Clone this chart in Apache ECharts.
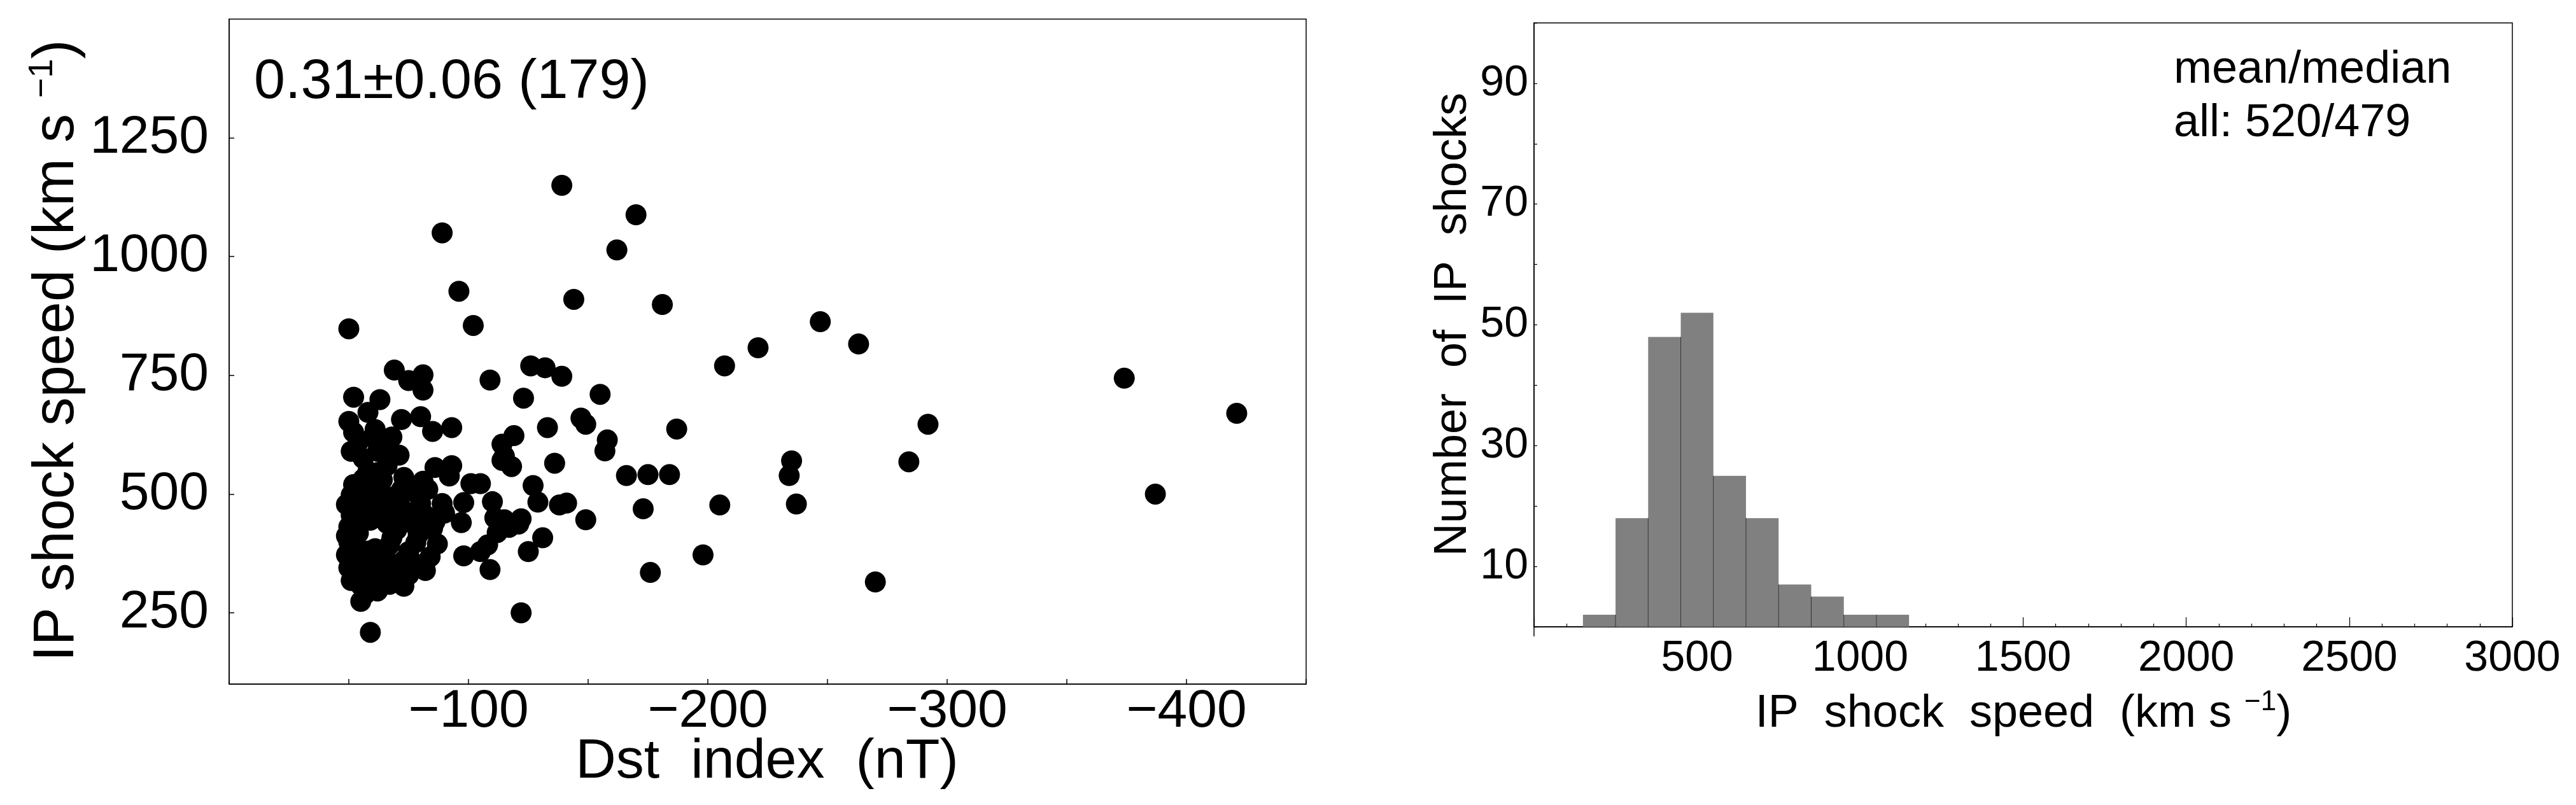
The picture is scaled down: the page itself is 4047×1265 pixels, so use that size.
<!DOCTYPE html>
<html>
<head>
<meta charset="utf-8">
<title>IP shock speed vs Dst</title>
<script src="https://cdn.jsdelivr.net/npm/echarts@6/dist/echarts.min.js"></script>
<style>
    html, body { margin: 0; padding: 0; background: #fff; }
    #chart { width: 4047px; height: 1265px; }
</style>
</head>
<body>
<div id="chart"></div>
<script>
// scatter: Dst index (nT) and IP shock speed (km/s), one entry per event (179)
const dstValues = [
    -50, -89, -96, -102, -139, -170, -162, -144, -181, -247,
    -263, -221, -207, -374, -421, -292, -387, -284, -235, -234,
    -237, -205, -270, -198, -176, -122, -59, -187, -184, -175,
    -166, -173, -149, -136, -158, -157, -127, -129, -138, -141,
    -131, -125, -126, -132, -139, -123, -155, -147, -149, -133,
    -122, -69, -81, -75, -81, -109, -52, -63, -50, -58,
    -60, -68, -72, -80, -85, -93, -71, -119, -114, -115,
    -58, -66, -86, -93, -92, -118, -114, -51, -63, -72,
    -81, -101, -105, -110, -98, -89, -90, -97, -115, -121,
    -112, -108, -105, -98, -109, -87, -82, -75, -80, -68,
    -51, -50, -50, -51, -53, -55, -63, -67, -73, -55,
    -61, -111, -73, -117,
    -52, -49, -53, -52, -54, -49, -52, -49, -53, -50, -54, -51, -57,
    -57, -58, -56, -59, -53, -61, -58, -61, -57, -60, -62, -59, -56,
    -64, -66, -65, -68, -66, -68, -67, -65, -69, -66, -70, -63, -62,
    -69, -74, -77, -70, -76, -78, -73, -79, -75, -77, -72, -79,
    -80, -81, -85, -84, -62, -82, -86, -83,
    -51, -54, -56, -62, -52, -66
];
const shockSpeeds = [
    848, 1050, 927, 855, 1150, 1088, 1014, 910, 899, 863,
    816, 808, 770, 744, 670, 647, 500, 568, 570, 539,
    479, 477, 315, 372, 335, 250, 209, 637, 541, 541,
    539, 469, 446, 565, 614, 591, 518, 483, 477, 481,
    408, 379, 770, 766, 748, 702, 710, 660, 647, 640,
    448, 761, 751, 739, 719, 740, 704, 699, 653, 672,
    620, 620, 657, 663, 632, 640, 582, 623, 605, 580,
    548, 560, 556, 560, 538, 558, 571, 498, 502, 509,
    527, 522, 522, 484, 482, 480, 460, 440, 446, 437,
    419, 393, 379, 370, 341, 395, 339, 379, 442, 433,
    455, 431, 399, 357, 335, 308, 312, 310, 306, 274,
    636, 450, 535, 430,
    520, 478, 470, 442, 418, 412, 385, 372, 366, 345, 322, 318, 290,
    510, 490, 462, 445, 430, 385, 380, 362, 350, 332, 296, 318, 532,
    530, 485, 468, 455, 438, 408, 393, 372, 352, 340, 325, 455, 520,
    495, 458, 455, 425, 440, 398, 360, 352, 330, 505, 470, 415,
    480, 425, 428, 368, 545, 455, 442, 510,
    590, 610, 575, 590, 630, 598
];

// histogram: bin edges (km/s) and counts
const binEdges = [150, 250, 350, 450, 550, 650, 750, 850, 950, 1050, 1150];
const binCounts = [2, 18, 48, 52, 25, 18, 7, 5, 2, 2];

// tick labels
const dstTickLabels = [-100, -200, -300, -400];
const speedTickLabels = [250, 500, 750, 1000, 1250];
const histYTickLabels = [10, 30, 50, 70, 90];

const FONT = '"Liberation Sans", Arial, sans-serif';

let chart = echarts.init(document.getElementById('chart'));

let scatterData = dstValues.map((d, i) => [d, shockSpeeds[i]]);
let histData = binCounts.map((c, i) => [
    binEdges[i], binEdges[i + 1], c,
    i > 0 ? Math.min(c, binCounts[i - 1]) : 0   // height of the divider line
]);

let plain = v => String(v).replace('-', '\u2212');   // no thousands separator
let axisLine = { show: true, lineStyle: { color: '#000', width: 1.5 } };

let option = {
    backgroundColor: '#fff',
    animation: false,
    grid: [
        { left: 360, top: 30, width: 1692, height: 1045, show: true,
          borderColor: '#000', borderWidth: 1.5, outerBoundsMode: 'none' },
        { left: 2410, top: 36, width: 1537, height: 949, show: true,
          borderColor: '#000', borderWidth: 1.5, outerBoundsMode: 'none' }
    ],
    xAxis: [
        {
            gridIndex: 0, type: 'value', min: -450, max: 0, interval: 50, inverse: true,
            axisLine: axisLine,
            axisTick: { show: true, inside: true, length: 8, lineStyle: { color: '#000', width: 1.5 } },
            axisLabel: {
                customValues: dstTickLabels,
                formatter: plain,
                color: '#000', fontSize: 84, fontFamily: FONT, margin: 2
            },
            splitLine: { show: false }
        },
        {
            gridIndex: 1, type: 'value', min: 0, max: 3000, interval: 500,
            axisLine: axisLine,
            axisTick: { show: true, inside: true, length: 15, lineStyle: { color: '#000', width: 1.2 } },
            minorTick: { show: true, splitNumber: 5, length: 5, lineStyle: { color: '#000', width: 1.2 } },
            axisLabel: { showMinLabel: false, formatter: plain, color: '#000', fontSize: 68,
                         fontFamily: FONT, margin: 16 },
            splitLine: { show: false },
            minorSplitLine: { show: false }
        }
    ],
    yAxis: [
        {
            gridIndex: 0, type: 'value', min: 100, max: 1500,
            axisLine: axisLine,
            axisTick: { show: true, inside: true, length: 8, customValues: speedTickLabels,
                        lineStyle: { color: '#000', width: 1.5 } },
            axisLabel: { customValues: speedTickLabels, formatter: plain, color: '#000', fontSize: 84,
                         fontFamily: FONT, margin: 32 },
            splitLine: { show: false }
        },
        {
            gridIndex: 1, type: 'value', min: 0, max: 100, interval: 10,
            axisLine: axisLine,
            axisTick: { show: true, inside: true, length: 5, lineStyle: { color: '#000', width: 1.2 } },
            axisLabel: { customValues: histYTickLabels, formatter: plain, color: '#000', fontSize: 68,
                         fontFamily: FONT, margin: 9 },
            splitLine: { show: false }
        }
    ],
    series: [
        {
            type: 'scatter',
            xAxisIndex: 0, yAxisIndex: 0,
            data: scatterData,
            symbol: 'circle',
            symbolSize: 33,
            itemStyle: { color: '#000', opacity: 1 },
            emphasis: { disabled: true }
        },
        {
            type: 'custom',
            xAxisIndex: 1, yAxisIndex: 1,
            data: histData,
            encode: { x: [0, 1], y: 2 },
            renderItem: function (params, api) {
                let top = api.coord([api.value(0), api.value(2)]);
                let bottom = api.coord([api.value(1), 0]);
                let children = [{
                    type: 'rect',
                    shape: { x: top[0], y: top[1], width: bottom[0] - top[0], height: bottom[1] - top[1] },
                    style: { fill: '#808080' }
                }];
                if (api.value(3) > 0) {
                    let a = api.coord([api.value(0), 0]);
                    let b = api.coord([api.value(0), api.value(3)]);
                    children.push({
                        type: 'line',
                        shape: { x1: a[0], y1: a[1], x2: b[0], y2: b[1] },
                        style: { stroke: '#333', lineWidth: 1 }
                    });
                }
                return { type: 'group', children: children };
            }
        }
    ],
    graphic: [
        { type: 'text', x: 399, y: 130,
          style: { text: '0.31\u00b10.06 (179)', fill: '#000', fontSize: 88, fontFamily: FONT, verticalAlign: 'middle' } },
        { type: 'text', x: 3415, y: 110,
          style: { text: 'mean/median', fill: '#000', fontSize: 72, fontFamily: FONT, verticalAlign: 'middle' } },
        { type: 'text', x: 3415, y: 194,
          style: { text: 'all: 520/479', fill: '#000', fontSize: 72, fontFamily: FONT, verticalAlign: 'middle' } },
        // axis titles
        { type: 'text', x: 1205, y: 1198,
          style: { text: 'Dst  index  (nT)', fill: '#000', fontSize: 88, fontFamily: FONT,
                   align: 'center', verticalAlign: 'middle' } },
        { type: 'text', x: 90, y: 551, rotation: Math.PI / 2,
          style: { text: 'IP shock speed (km s {sup|\u22121})', fill: '#000', fontSize: 90, lineHeight: 100,
                   fontFamily: FONT, align: 'center', verticalAlign: 'middle',
                   rich: { sup: { fontSize: 54, lineHeight: 50, verticalAlign: 'top', fontFamily: FONT, fill: '#000' } } } },
        { type: 'text', x: 2283, y: 510, rotation: Math.PI / 2,
          style: { text: 'Number  of  IP  shocks', fill: '#000', fontSize: 72, fontFamily: FONT,
                   align: 'center', verticalAlign: 'middle' } },
        { type: 'text', x: 3179, y: 1122,
          style: { text: 'IP  shock  speed  (km s {sup|\u22121})', fill: '#000', fontSize: 72, lineHeight: 80,
                   fontFamily: FONT, align: 'center', verticalAlign: 'middle',
                   rich: { sup: { fontSize: 44, lineHeight: 40, verticalAlign: 'top', fontFamily: FONT, fill: '#000' } } } },
        // left axis of the histogram runs a little past the bottom axis
        { type: 'line', shape: { x1: 2410, y1: 985, x2: 2410, y2: 1000 },
          style: { stroke: '#000', lineWidth: 1.5 } }
    ]
};

chart.setOption(option);
</script>
</body>
</html>
